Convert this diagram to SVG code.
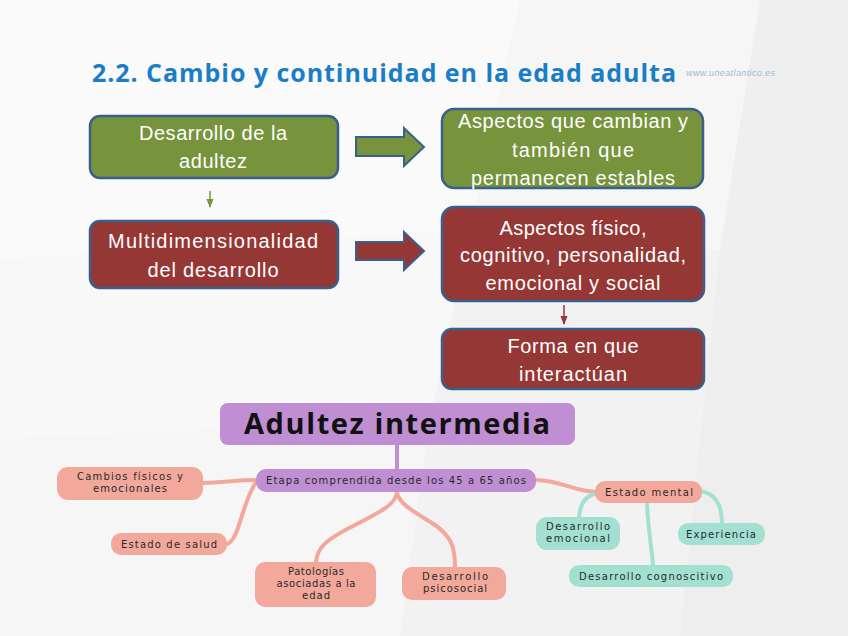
<svg xmlns="http://www.w3.org/2000/svg" width="848" height="636" viewBox="0 0 848 636">
<defs>
<style>
.bx{stroke:#3B5F8C;stroke-width:2.5}
.g{fill:#77933C}
.r{fill:#953735}
.t{font-family:"Liberation Sans",Arial,sans-serif;font-size:20px;fill:#ffffff;text-anchor:middle}
.mm{font-family:"DejaVu Sans","Open Sans",sans-serif;font-size:10px;fill:#2a2a2a;text-anchor:middle}
.pur{fill:#BF8ED3}
.sal{fill:#F2A99C}
.tea{fill:#A2E1D1}
.cs{fill:none;stroke:#F2A99C;stroke-width:4;stroke-linecap:round}
.ct{fill:none;stroke:#A2E1D1;stroke-width:4;stroke-linecap:round}
</style>
<marker id="ag" viewBox="0 0 10 10" refX="9" refY="5" markerWidth="6" markerHeight="6" orient="auto"><path d="M0,1 L10,5 L0,9 z" fill="#77933C"/></marker>
<marker id="ar" viewBox="0 0 10 10" refX="9" refY="5" markerWidth="6" markerHeight="6" orient="auto"><path d="M0,1 L10,5 L0,9 z" fill="#953735"/></marker>
</defs>
<rect x="0" y="0" width="848" height="636" fill="#f2f2f2"/>
<polygon points="0,0 520,0 470,230 0,260" fill="#fafafa"/>
<polygon points="0,260 470,230 430,420 0,440" fill="#f8f8f8"/>
<polygon points="520,0 760,0 720,250 470,230" fill="#f6f6f6"/>
<polygon points="0,440 430,420 400,636 0,636" fill="#f6f6f6"/>
<polygon points="760,0 848,0 848,230 720,250" fill="#efefef"/>
<polygon points="720,250 848,230 848,636 680,636" fill="#eeeeee"/>

<text x="92" y="82" textLength="584" font-family="'Open Sans','DejaVu Sans',sans-serif" font-weight="bold" font-size="25" fill="#1A7EC6">2.2. Cambio y continuidad en la edad adulta</text>
<text x="686" y="76" textLength="89" font-family="'Liberation Sans',Arial,sans-serif" font-style="italic" font-size="9" fill="#9CB9D8">www.uneatlantico.es</text>

<g id="connectors">
<polygon points="356,137 404,137 404,128 424,147 404,166 404,156 356,156" fill="#77933C" stroke="#3B5F8C" stroke-width="2"/>
<polygon points="356,242 404,242 404,232 424,251 404,270 404,260 356,260" fill="#953735" stroke="#3B5F8C" stroke-width="2"/>
<line x1="210" y1="191" x2="210" y2="207" stroke="#77933C" stroke-width="1.5" marker-end="url(#ag)"/>
<line x1="564" y1="305" x2="564" y2="324" stroke="#953735" stroke-width="1.5" marker-end="url(#ar)"/>
<path d="M397,445 L397,470" fill="none" stroke="#BF8ED3" stroke-width="4"/>
<path class="cs" d="M203,483 C225,482 240,480 256,480"/>
<path class="cs" d="M227,544 C240,540 242,500 257,481"/>
<path class="cs" d="M397,493 C395,505 380,512 355,525 C325,540 317,548 316,562"/>
<path class="cs" d="M397,493 C400,505 415,512 435,525 C452,537 455,548 455,567"/>
<path class="cs" d="M536,480 C560,480 575,492 597,492"/>
<path class="ct" d="M598,493 C585,495 580,505 579,517"/>
<path class="ct" d="M700,491 C715,493 722,505 722,523"/>
<path class="ct" d="M647,503 C648,530 652,550 653,565"/>
</g>

<g id="n1"><rect class="bx g" x="90" y="116" width="248" height="62" rx="10"/>
<text class="t" x="213" y="140" textLength="148">Desarrollo de la</text>
<text class="t" x="213" y="168" textLength="68">adultez</text></g>

<g id="n2"><rect class="bx g" x="442" y="109" width="261" height="79" rx="12"/>
<text class="t" x="573" y="128" textLength="230">Aspectos que cambian y</text>
<text class="t" x="573" y="157" textLength="122">también que</text>
<text class="t" x="573" y="185" textLength="204">permanecen estables</text></g>

<g id="n3"><rect class="bx r" x="90" y="221" width="248" height="67" rx="10"/>
<text class="t" x="213" y="248" textLength="210">Multidimensionalidad</text>
<text class="t" x="213" y="277" textLength="131">del desarrollo</text></g>

<g id="n4"><rect class="bx r" x="442" y="207" width="262" height="94" rx="12"/>
<text class="t" x="573" y="235" textLength="147">Aspectos físico,</text>
<text class="t" x="573" y="262" textLength="226">cognitivo, personalidad,</text>
<text class="t" x="573" y="290" textLength="175">emocional y social</text></g>

<g id="n5"><rect class="bx r" x="442" y="329" width="262" height="60" rx="10"/>
<text class="t" x="573" y="353" textLength="131">Forma en que</text>
<text class="t" x="573" y="381" textLength="108">interactúan</text></g>

<g id="m0"><rect class="pur" x="220" y="403" width="355" height="42" rx="8"/>
<text x="397" y="434" textLength="306" text-anchor="middle" font-family="'Open Sans','DejaVu Sans',sans-serif" font-weight="bold" font-size="29" fill="#111">Adultez intermedia</text></g>

<g id="m1"><rect class="pur" x="256" y="469" width="280" height="23" rx="10"/>
<text class="mm" x="396" y="484" textLength="260">Etapa comprendida desde los 45 a 65 años</text></g>

<g id="m2"><rect class="sal" x="57" y="467" width="146" height="33" rx="11"/>
<text class="mm" x="130" y="480" textLength="106">Cambios físicos y</text>
<text class="mm" x="130" y="492" textLength="74">emocionales</text></g>

<g id="m3"><rect class="sal" x="111" y="533" width="116" height="22" rx="10"/>
<text class="mm" x="169" y="548" textLength="96">Estado de salud</text></g>

<g id="m4"><rect class="sal" x="255" y="562" width="121" height="45" rx="10"/>
<text class="mm" x="316" y="575" textLength="56">Patologías</text>
<text class="mm" x="316" y="587" textLength="79">asociadas a la</text>
<text class="mm" x="316" y="599" textLength="28">edad</text></g>

<g id="m5"><rect class="sal" x="402" y="567" width="104" height="33" rx="10"/>
<text class="mm" x="455" y="580" textLength="66">Desarrollo</text>
<text class="mm" x="455" y="592" textLength="64">psicosocial</text></g>

<g id="m6"><rect class="sal" x="595" y="481" width="107" height="22" rx="10"/>
<text class="mm" x="649" y="496" textLength="88">Estado mental</text></g>

<g id="m7"><rect class="tea" x="536" y="517" width="84" height="33" rx="11"/>
<text class="mm" x="578" y="530" textLength="64">Desarrollo</text>
<text class="mm" x="578" y="542" textLength="64">emocional</text></g>

<g id="m8"><rect class="tea" x="678" y="523" width="87" height="22" rx="10"/>
<text class="mm" x="721" y="538" textLength="70">Experiencia</text></g>

<g id="m9"><rect class="tea" x="569" y="565" width="164" height="22" rx="10"/>
<text class="mm" x="651" y="580" textLength="144">Desarrollo cognoscitivo</text></g>
</svg>
